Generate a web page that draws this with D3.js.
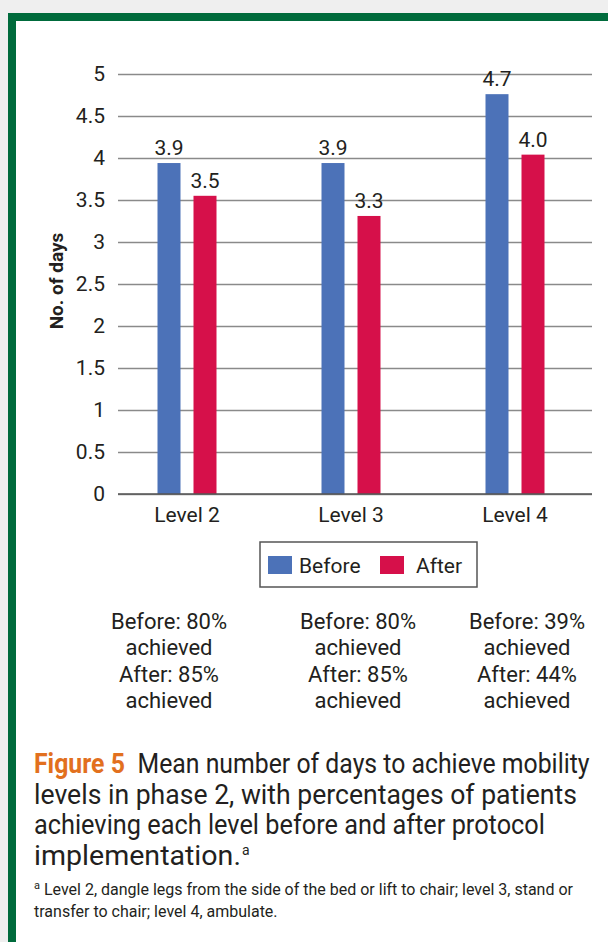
<!DOCTYPE html>
<html>
<head>
<meta charset="utf-8">
<script src="https://cdn.jsdelivr.net/npm/d3@7"></script>
<style>
  html, body { margin: 0; padding: 0; background: #efefef; }
  svg { display: block; }
  text { font-family: "Liberation Sans Narrow", "Arial Narrow", "Roboto", sans-serif; fill: #231f20; }
</style>
</head>
<body>
<div id="chart"></div>
<script>
var width = 608;
var height = 942;

// data
var levels = ["Level 2", "Level 3", "Level 4"];
var series = ["Before", "After"];
var beforeDays = [3.94, 3.94, 4.76];
var afterDays = [3.55, 3.31, 4.04];
var beforeLabels = ["3.9", "3.9", "4.7"];
var afterLabels = ["3.5", "3.3", "4.0"];
var yTicks = [0, 0.5, 1, 1.5, 2, 2.5, 3, 3.5, 4, 4.5, 5];
var beforePct = ["80%", "80%", "39%"];
var afterPct = ["85%", "85%", "44%"];
var colors = { Before: "#4c72b8", After: "#d6104a" };

var captionLines = [
  "Mean number of days to achieve mobility",
  "levels in phase 2, with percentages of patients",
  "achieving each level before and after protocol",
  "implementation."
];
// widths the caption lines take in the figure (condensed face)
var captionWidths = [556, 543, 511, 207];
var footLines = [
  "Level 2, dangle legs from the side of the bed or lift to chair; level 3, stand or",
  "transfer to chair; level 4, ambulate."
];

var svg = d3.select("#chart").append("svg")
  .attr("width", width)
  .attr("height", height);

// page background and green frame
svg.append("rect").attr("x", 0).attr("y", 0).attr("width", width).attr("height", height).attr("fill", "#efefef");
svg.append("rect").attr("x", 8).attr("y", 13).attr("width", width).attr("height", height).attr("fill", "#006b3c");
svg.append("rect").attr("x", 16).attr("y", 21).attr("width", width).attr("height", height).attr("fill", "#ffffff");

var x = d3.scaleBand().domain(levels).range([105, 597]);
var xInner = d3.scaleBand().domain(series).range([-29.5, 29.5]).paddingInner(0.3611);
var y = d3.scaleLinear().domain([0, 5]).range([494, 74]);

// gridlines + y axis
var yAxis = d3.axisLeft(y).tickValues(yTicks).tickSize(-474).tickPadding(12)
  .tickFormat(function(d) { return d; });
var gy = svg.append("g").attr("transform", "translate(118,0)").call(yAxis);
gy.select(".domain").remove();
gy.selectAll(".tick line").attr("stroke", "#8a8a8a").attr("stroke-width", 1.5);
gy.selectAll(".tick text").attr("font-size", 21).attr("fill", "#231f20").attr("x", -13);

// y title
svg.append("text")
  .attr("transform", "translate(63,281) rotate(-90)")
  .attr("text-anchor", "middle")
  .attr("font-size", 19)
  .attr("font-weight", "bold")
  .text("No. of days");

// bars
var rows = levels.map(function(l, i) {
  return [
    { level: l, s: "Before", v: beforeDays[i], label: beforeLabels[i] },
    { level: l, s: "After", v: afterDays[i], label: afterLabels[i] }
  ];
});

var groups = svg.selectAll(".grp").data(rows).enter().append("g")
  .attr("class", "grp")
  .attr("transform", function(d) { return "translate(" + (x(d[0].level) + x.bandwidth() / 2) + ",0)"; });

groups.selectAll("rect").data(function(d) { return d; }).enter().append("rect")
  .attr("x", function(d) { return xInner(d.s); })
  .attr("y", function(d) { return y(d.v); })
  .attr("width", xInner.bandwidth())
  .attr("height", function(d) { return y(0) - y(d.v); })
  .attr("fill", function(d) { return colors[d.s]; });

groups.selectAll(".val").data(function(d) { return d; }).enter().append("text")
  .attr("class", "val")
  .attr("x", function(d) { return xInner(d.s) + xInner.bandwidth() / 2; })
  .attr("y", function(d) { return y(d.v) - 8; })
  .attr("text-anchor", "middle")
  .attr("font-size", 21)
  .text(function(d) { return d.label; });

// baseline
svg.append("line").attr("x1", 118).attr("x2", 592).attr("y1", y(0)).attr("y2", y(0))
  .attr("stroke", "#555").attr("stroke-width", 1.5);

// category labels
var xAxis = d3.axisBottom(x).tickSize(0).tickPadding(10);
var gx = svg.append("g").attr("transform", "translate(0," + y(0) + ")").call(xAxis);
gx.select(".domain").remove();
gx.selectAll(".tick text").attr("font-size", 21).attr("fill", "#231f20").attr("dy", "0.85em");

// legend
var lg = svg.append("g").attr("transform", "translate(260,542)");
lg.append("rect").attr("width", 217).attr("height", 45).attr("fill", "#fff")
  .attr("stroke", "#555").attr("stroke-width", 1.5);
var li = lg.selectAll(".li").data(series).enter().append("g")
  .attr("transform", function(d, i) { return "translate(" + (8 + i * 112) + ",14)"; });
li.append("rect").attr("width", 24).attr("height", 18).attr("fill", function(d) { return colors[d]; });
li.append("text").attr("x", function(d, i) { return i ? 36 : 31; }).attr("y", 17)
  .attr("font-size", 21).text(function(d) { return d; });

// percentage notes
var px = d3.scalePoint().domain(levels).range([169, 527]);
levels.forEach(function(l, i) {
  var lines = ["Before: " + beforePct[i], "achieved", "After: " + afterPct[i], "achieved"];
  svg.append("g").selectAll("text").data(lines).enter().append("text")
    .attr("x", px(l) + (i === 1 ? 10 : 0))
    .attr("y", function(d, j) { return 629 + j * 26.3; })
    .attr("text-anchor", "middle")
    .attr("font-size", 22)
    .text(function(d) { return d; });
});

// caption - no condensed face installed, so squeeze each line to the figure's width
var cap = svg.append("g").attr("font-size", 28);
cap.selectAll("text").data(captionLines).enter().append("text")
  .attr("x", 0)
  .attr("y", 0)
  .each(function(d, i) {
    var t = d3.select(this);
    if (i === 0) {
      t.append("tspan").attr("font-weight", "bold").style("fill", "#e2701e").text("Figure 5");
      t.append("tspan").text("\u2002" + d);
    } else {
      t.text(d);
    }
    var w = this.getComputedTextLength();
    var sx = captionWidths[i] / w;
    t.attr("transform", "translate(34," + (773 + i * 30.5) + ") scale(" + sx + ",1)");
  });

// superscript after "implementation."
cap.append("text")
  .attr("x", 34 + captionWidths[3] + 1)
  .attr("y", 773 + 3 * 30.5 - 10)
  .attr("font-size", 14)
  .text("a");

// footnote
var fn = svg.append("g").attr("font-size", 16);
fn.selectAll("text").data(footLines).enter().append("text")
  .attr("x", 34)
  .attr("y", function(d, i) { return 895 + i * 22; })
  .each(function(d, i) {
    var t = d3.select(this);
    if (i === 0) {
      t.append("tspan").attr("font-size", 11).attr("dy", -6).text("a");
      t.append("tspan").attr("dy", 6).text(" " + d);
    } else {
      t.text(d);
    }
  });
</script>
</body>
</html>
